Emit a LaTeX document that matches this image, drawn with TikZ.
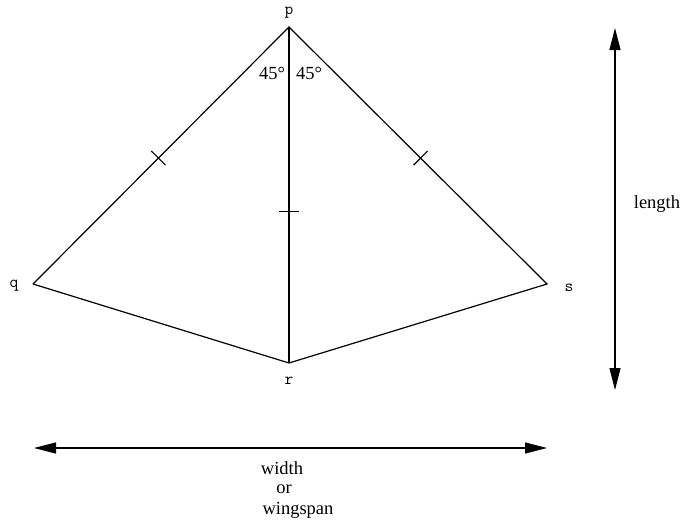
\documentclass[tikz,border=0pt]{standalone}
\usepackage{fontspec}
\setmainfont{Liberation Serif}
\usetikzlibrary{calc, positioning}
\usetikzlibrary{arrows.meta}

\tikzset{
	edge/.style={line width=1.2pt},
	dimline/.style={line width=1.2pt, {Triangle[length=22pt,width=11pt]}-{Triangle[length=22pt,width=11pt]}},
	vlabel/.style={font=\ttfamily\fontsize{17}{19}\selectfont, inner sep=0pt},
	txt/.style={font=\fontsize{18.5}{20}\selectfont, inner sep=0pt}
}

\begin{document}
\begin{tikzpicture}[x=1pt,y=-1pt]
	\useasboundingbox (0,0) rectangle (683,525);
	
	\coordinate (p) at (289,27);
	\coordinate (q) at (33,284);
	\coordinate (r) at (289,363);
	\coordinate (s) at (547,284);
	
	\draw[edge] (q) -- (p) -- (s) -- (r) -- (q);
	\draw[edge] (p) -- (r);
	
	% equal-length marks
	\path (p) -- (q) coordinate[pos=0.51] (tq);
	\path (p) -- (s) coordinate[pos=0.51] (ts);
	\path (p) -- (r) coordinate[pos=0.55] (tr);
	\foreach \m/\e in {tq/q, ts/s, tr/r}
		\draw[edge] ($(\m)!10pt!90:(\e)$) -- ($(\m)!10pt!-90:(\e)$);
	
	\node[vlabel] (lp) at (289,13) {p};
	\node[vlabel] (lq) at (14,286) {q};
	\node[vlabel] (lr) at (289,381) {r};
	\node[vlabel] (ls) at (569,288) {s};
	
	\node[txt] (al) at (272,73) {45°};
	\node[txt] (ar) at (309,73) {45°};
	
	% dimensions
	\coordinate (wl) at (34,448);
	\coordinate (wr) at (547,448);
	\coordinate (lt) at (615,28);
	\coordinate (lb) at (615,390);
	\draw[dimline] (wl) -- (wr);
	\draw[dimline] (lt) -- (lb);
	
	\node[txt] (len) at (657,204) {length};
	\node[txt] (wd) at (282,468) {width};
	\node[txt] (wor) at (284,489) {or};
	\node[txt] (wsp) at (298,510) {wingspan};
\end{tikzpicture}
\end{document}
